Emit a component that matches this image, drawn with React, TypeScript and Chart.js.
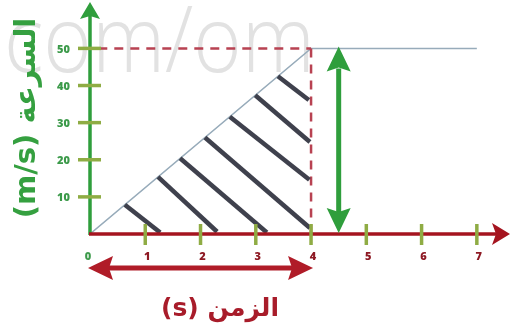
import { useEffect, useRef } from "react";
import { Chart, registerables } from "chart.js";

Chart.register(...registerables);

// Axis ranges and ticks
const X_MAX = 7.6;
const Y_MAX = 62.5;
const xTickValues = [0, 1, 2, 3, 4, 5, 6, 7];
const xTickLabels = ["0", "1", "2", "3", "4", "5", "6", "7"];
const yTickValues = [10, 20, 30, 40, 50];
const yTickLabels = ["10", "20", "30", "40", "50"];

// Velocity-time graph: uniform acceleration then constant speed
const velocityTimes = [0, 4, 7];
const velocityValues = [0, 50, 50];

// Shaded (hatched) area under the acceleration segment
const hatchStartTimes = [0.63, 1.23, 1.63, 2.08, 2.53, 2.99, 3.4];
const hatchStartSpeeds = [7.9, 15.4, 20.4, 26.0, 31.6, 37.4, 42.5];
const hatchEndTimes = [1.27, 2.3, 3.2, 3.98, 3.97, 3.98, 3.96];
const hatchEndSpeeds = [0.4, 0.6, 0.4, 1.6, 14.6, 24.8, 36.1];

// Guide values
const topSpeed = 50;
const accelTime = 4;
const speedArrowTime = 4.5;

const yTitle = "السرعة (m/s)";
const xTitle = "الزمن (s)";
const watermarkText = "com/om";

const GREEN = "#2f9e3c";
const RED = "#a5141f";
const TICK = "#8fac44";

function arrowHead(
  ctx: CanvasRenderingContext2D,
  tipX: number,
  tipY: number,
  angle: number,
  len: number,
  half: number,
  notch: number,
  color: string
) {
  ctx.save();
  ctx.translate(tipX, tipY);
  ctx.rotate(angle);
  ctx.fillStyle = color;
  ctx.beginPath();
  ctx.moveTo(0, 0);
  ctx.lineTo(-len, -half);
  ctx.lineTo(-len + notch, 0);
  ctx.lineTo(-len, half);
  ctx.closePath();
  ctx.fill();
  ctx.restore();
}

const diagramPlugin = {
  id: "diagram",
  beforeDatasetsDraw(chart: any) {
    const ctx: CanvasRenderingContext2D = chart.ctx;
    ctx.save();
    ctx.fillStyle = "#e2e2e2";
    ctx.font = "300 92px 'Open Sans'";
    ctx.textBaseline = "alphabetic";
    ctx.textAlign = "left";
    ctx.translate(4, 72);
    ctx.scale(0.9, 1);
    ctx.fillText(watermarkText, 0, 0);
    ctx.restore();
  },
  afterDatasetsDraw(chart: any) {
    const ctx: CanvasRenderingContext2D = chart.ctx;
    const xs = chart.scales.x;
    const ys = chart.scales.y;
    const area = chart.chartArea;
    const x0 = xs.getPixelForValue(0);
    const y0 = ys.getPixelForValue(0);

    ctx.save();
    ctx.lineCap = "butt";

    // y axis with arrow
    ctx.strokeStyle = GREEN;
    ctx.lineWidth = 3.5;
    ctx.beginPath();
    ctx.moveTo(x0, y0 + 1);
    ctx.lineTo(x0, area.top + 12);
    ctx.stroke();
    arrowHead(ctx, x0, area.top, -Math.PI / 2, 17, 10, 3, GREEN);

    // x axis with arrow
    ctx.strokeStyle = RED;
    ctx.lineWidth = 3.5;
    ctx.beginPath();
    ctx.moveTo(x0 - 1, y0);
    ctx.lineTo(area.right - 12, y0);
    ctx.stroke();
    arrowHead(ctx, area.right, y0, 0, 18, 11, 4, RED);

    // tick marks
    ctx.strokeStyle = TICK;
    ctx.lineWidth = 3.5;
    xTickValues.forEach((v) => {
      if (v === 0) return;
      const px = xs.getPixelForValue(v);
      ctx.beginPath();
      ctx.moveTo(px, y0 - 10);
      ctx.lineTo(px, y0 + 11);
      ctx.stroke();
    });
    yTickValues.forEach((v) => {
      const py = ys.getPixelForValue(v);
      ctx.beginPath();
      ctx.moveTo(x0 - 12, py);
      ctx.lineTo(x0 + 11, py);
      ctx.stroke();
    });

    // tick labels
    ctx.font = "800 11px 'Open Sans'";
    ctx.textBaseline = "middle";
    ctx.textAlign = "center";
    xTickValues.forEach((v, i) => {
      ctx.fillStyle = v === 0 ? "#3c9a4a" : "#8e1a24";
      ctx.fillText(xTickLabels[i], xs.getPixelForValue(v) + (v === 0 ? -2 : 2), y0 + 23);
    });
    ctx.textAlign = "right";
    ctx.fillStyle = "#3c9a4a";
    yTickValues.forEach((v, i) => {
      ctx.fillText(yTickLabels[i], x0 - 20, ys.getPixelForValue(v) + 1);
    });

    // vertical double arrow: speed reached
    const ax = xs.getPixelForValue(speedArrowTime);
    const aTop = ys.getPixelForValue(topSpeed);
    ctx.strokeStyle = GREEN;
    ctx.lineWidth = 5;
    ctx.beginPath();
    ctx.moveTo(ax, aTop + 20);
    ctx.lineTo(ax, y0 - 20);
    ctx.stroke();
    arrowHead(ctx, ax, aTop - 2, -Math.PI / 2, 25, 12, 4, GREEN);
    arrowHead(ctx, ax, y0 - 1, Math.PI / 2, 25, 12, 4, GREEN);

    // horizontal double arrow: elapsed time
    const bx0 = xs.getPixelForValue(0) - 2;
    const bx1 = xs.getPixelForValue(accelTime) + 2;
    const by = y0 + 34;
    ctx.strokeStyle = "#b01c28";
    ctx.lineWidth = 5;
    ctx.beginPath();
    ctx.moveTo(bx0 + 20, by);
    ctx.lineTo(bx1 - 20, by);
    ctx.stroke();
    arrowHead(ctx, bx0, by, Math.PI, 25, 12, 4, "#b01c28");
    arrowHead(ctx, bx1, by, 0, 25, 12, 4, "#b01c28");

    // axis titles (Arabic, right-to-left)
    ctx.direction = "rtl";
    ctx.font = "bold 25px 'DejaVu Sans'";
    ctx.textAlign = "center";
    ctx.textBaseline = "middle";
    ctx.fillStyle = "#a81c2a";
    ctx.fillText(xTitle, 220, y0 + 75);

    ctx.save();
    ctx.translate(27, 118);
    ctx.rotate(-Math.PI / 2);
    ctx.fillStyle = "#35a040";
    ctx.font = "bold 29px 'DejaVu Sans'";
    ctx.fillText(yTitle, 0, 0);
    ctx.restore();

    ctx.restore();
  },
};

export default function App() {
  const canvasRef = useRef<HTMLCanvasElement | null>(null);

  useEffect(() => {
    const canvas = canvasRef.current;
    if (!canvas) return;

    const velocityPoints = velocityTimes.map((t, i) => ({ x: t, y: velocityValues[i] }));
    const hatchSets = hatchStartTimes.map((t, i) => ({
      data: [
        { x: t, y: hatchStartSpeeds[i] },
        { x: hatchEndTimes[i], y: hatchEndSpeeds[i] },
      ],
      borderColor: "#3f414d",
      borderWidth: 4.5,
      borderCapStyle: "butt" as const,
      pointRadius: 0,
      fill: false,
    }));

    const chart = new Chart(canvas, {
      type: "line",
      data: {
        datasets: [
          ...hatchSets,
          {
            data: [
              { x: 0.15, y: topSpeed },
              { x: accelTime, y: topSpeed },
            ],
            borderColor: "#b84252",
            borderWidth: 2.5,
            borderDash: [9, 7],
            pointRadius: 0,
          },
          {
            data: [
              { x: accelTime, y: topSpeed },
              { x: accelTime, y: 0 },
            ],
            borderColor: "#b84252",
            borderWidth: 2.5,
            borderDash: [9, 7],
            pointRadius: 0,
          },
          {
            data: velocityPoints,
            borderColor: "#97abba",
            borderWidth: 1.5,
            pointRadius: 0,
            tension: 0,
          },
        ],
      },
      options: {
        responsive: false,
        animation: false,
        devicePixelRatio: 1,
        layout: { padding: { left: 90, right: 3, top: 2, bottom: 95 } },
        plugins: { legend: { display: false }, tooltip: { enabled: false } },
        scales: {
          x: { type: "linear", min: 0, max: X_MAX, display: false },
          y: { type: "linear", min: 0, max: Y_MAX, display: false },
        },
      },
      plugins: [diagramPlugin],
    });

    return () => chart.destroy();
  }, []);

  return (
    <div style={{ position: "fixed", left: 0, top: 0, width: 513, height: 329, background: "#fff" }}>
      <canvas ref={canvasRef} width={513} height={329} />
    </div>
  );
}
